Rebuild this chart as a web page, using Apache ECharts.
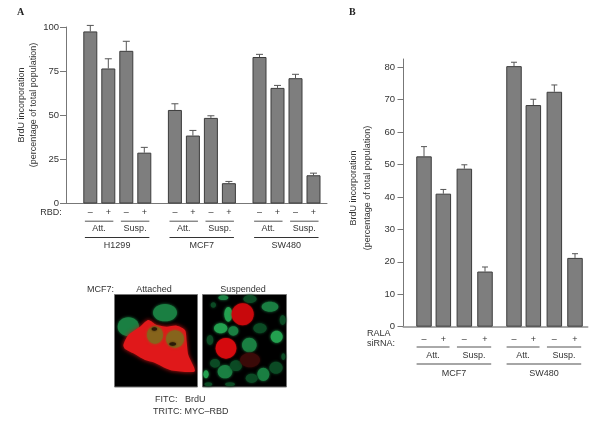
<!DOCTYPE html>
<html><head><meta charset="utf-8">
<style>html,body{margin:0;padding:0;background:#fff}#c{width:600px;height:423px}</style>
<script src="https://cdn.jsdelivr.net/npm/echarts@6/dist/echarts.min.js"></script>
</head><body><div id="c"></div>
<script>
const linesA = ['H1299','MCF7','SW480'];
const conditions = ['Att.','Susp.'];
const signs = ['–','+','–','+'];
const valuesA = [97.5,76.5,86.5,28.8, 53,38.5,48.5,11.5, 83,65.5,71,16];
const topsA   = [100.9,82,91.9,31.8, 56.5,41.4,49.7,12.5, 84.5,66.9,73.2,17.2];
const linesB = ['MCF7','SW480'];
const valuesB = [52.5,41,48.7,17, 80.3,68.3,72.4,21.2];
const topsB   = [55.5,42.3,49.9,18.4, 81.5,70.1,74.5,22.5];

const FONT = '"Liberation Sans",Arial,sans-serif';
const TXT = '#333';
const chart = echarts.init(document.getElementById('c'));

// x layout in bar-pitch units
const xA = i => Math.floor(i/4)*4.70 + (i%4);
const xB = i => Math.floor(i/4)*4.5 + [0,0.967,2.017,3.05][i%4];

function barSeries(idx, xf, vals, w){
  return {type:'bar',xAxisIndex:idx,yAxisIndex:idx,barWidth:w,animation:false,silent:true,
    itemStyle:{color:'#7e7e7e',borderColor:'#3c3c3c',borderWidth:1},
    data:vals.map((v,i)=>[xf(i),v])};
}
function errSeries(idx, xf, vals, tops, cap){
  return {type:'custom',xAxisIndex:idx,yAxisIndex:idx,animation:false,silent:true,
    encode:{x:0,y:[1,2]},
    data:vals.map((v,i)=>[xf(i),v,tops[i]]),
    renderItem(p,api){
      const a=api.coord([api.value(0),api.value(1)]), b=api.coord([api.value(0),api.value(2)]);
      const st={stroke:'#555',lineWidth:1,fill:null};
      return {type:'group',children:[
        {type:'line',shape:{x1:a[0],y1:a[1],x2:b[0],y2:b[1]},style:st},
        {type:'line',shape:{x1:b[0]-cap,y1:b[1],x2:b[0]+cap,y2:b[1]},style:st}]};
    }};
}
// annotation rows below the axis, placed from the x scale
function annSeries(idx, items){
  return {type:'custom',xAxisIndex:idx,yAxisIndex:idx,animation:false,silent:true,clip:false,
    data:items.map((d,i)=>[d.x0,d.x1,i]),
    encode:{x:[0,1]},
    renderItem(p,api){
      const d=items[api.value(2)];
      const l=api.coord([d.x0,0]), r=api.coord([d.x1,0]);
      const y=l[1]+d.dy;
      if(d.text!==undefined) return {type:'text',style:{x:(l[0]+r[0])/2,y:y,text:d.text,
        font:(d.size||9)+'px '+FONT,fill:TXT,align:'center',verticalAlign:'middle'}};
      return {type:'line',shape:{x1:l[0],y1:y,x2:r[0],y2:y},style:{stroke:d.c||'#555',lineWidth:d.lw||1}};
    }};
}
function annotations(xf, names, cfg){
  const out=[];
  for(let i=0;i<names.length*4;i++){
    const x=xf(i); out.push({x0:x,x1:x,text:signs[i%4],dy:cfg.sign});
  }
  names.forEach((n,g)=>{
    const s=g*4;
    [[0,1],[2,3]].forEach((pair,k)=>{
      const a=xf(s+pair[0])-cfg.padL, b=xf(s+pair[1])+cfg.padR;
      out.push({x0:a,x1:b,dy:cfg.line1,c:'#555',lw:1});
      out.push({x0:a,x1:b,text:conditions[k],dy:cfg.text1});
    });
    const a=xf(s)-cfg.padL, b=xf(s+3)+cfg.padR;
    out.push({x0:a,x1:b,dy:cfg.line2,c:cfg.line2c,lw:cfg.line2w});
    out.push({x0:a,x1:b,text:n,dy:cfg.text2});
  });
  return out;
}
const annA=annotations(xA,linesA,{sign:9,line1:17.7,text1:25,line2:34,text2:42,padL:0.3,padR:0.28,line2c:'#333',line2w:1});
const annB=annotations(xB,linesB,{sign:12.5,line1:20.3,text1:28.5,line2:37.3,text2:46.5,padL:0.37,padR:0.31,line2c:'#888',line2w:1.6});

const yAxisBase={type:'value',
  axisLine:{show:true,onZero:false,lineStyle:{color:'#777',width:1}},
  axisTick:{show:true,length:6,lineStyle:{color:'#777'}},
  splitLine:{show:false},
  axisLabel:{color:TXT,fontFamily:FONT,fontSize:9.5}};

// photo panel (drawn as shapes); sketch coordinates
const px=(X,Y)=>[70+X/3,275+Y/3];
const cell=(X,Y,rx,ry,c,blur)=>{const p=px(X,Y);return {type:'ellipse',shape:{cx:p[0],cy:p[1],rx:rx/3,ry:ry/3},
  style:{fill:c,shadowBlur:blur===undefined?3:blur,shadowColor:c}};};
const G='#1a7f42', B='#23a04f', D='#0b4a24';
const photo=[
 {type:'rect',shape:{x:114.5,y:294.5,width:83,height:92.5},style:{fill:'#000',stroke:'#777',lineWidth:1}},
 cell(175,155,32,28,G),cell(285,113,36,26,G),
 {type:'polygon',shape:{smooth:0.25,points:[[160,210],[175,180],[210,155],[235,135],[260,150],[290,155],[320,152],[345,165],[350,200],[355,240],[375,288],[350,291],[300,285],[250,262],[225,255],[190,235],[165,222]].map(q=>px(q[0],q[1]))},
  style:{fill:'#e0181a',shadowBlur:4,shadowColor:'#d01414'}},
 cell(255,180,24,26,'#86641c'),cell(315,192,27,26,'#86641c'),
 cell(253,162,8,5,'#2a1a08',2),cell(308,207,10,5,'#2a1a08',2),
 {type:'rect',shape:{x:202.5,y:294.5,width:84,height:92.5},style:{fill:'#000',stroke:'#777',lineWidth:1}}
];
[[475,118,12,22,B],[452,160,20,15,B],[490,168,15,14,G],[430,90,8,8,D],[460,68,15,7,G],[540,72,20,12,D],
 [600,95,25,15,G],[638,135,9,15,D],[570,160,20,15,D],[620,185,18,18,B],[538,210,22,22,G],[420,195,10,15,D],
 [435,265,15,13,D],[465,290,22,20,G],[498,272,18,16,D],[408,298,8,12,B],[580,298,18,20,G],[618,278,20,18,D],
 [545,310,18,14,D],[415,328,12,6,D],[480,328,15,6,D],[640,245,6,10,D]
].forEach(a=>photo.push(cell(a[0],a[1],a[2],a[3],a[4])));
photo.push(cell(518,118,33,33,'#c8080c',2),cell(468,220,31,31,'#d40a0e',2),cell(540,255,30,22,'#3a0a08',3));
const T=(x,y,text,extra)=>({type:'text',style:Object.assign({x,y,text,font:'9px '+FONT,fill:TXT,align:'center',verticalAlign:'middle'},extra||{})});
const L={align:'left'};

const graphicEls=[
 {type:'text',style:{x:17,y:12,text:'A',font:'bold 10px "Liberation Serif",serif',fill:'#222',verticalAlign:'middle'}},
 {type:'text',style:{x:349,y:12,text:'B',font:'bold 10px "Liberation Serif",serif',fill:'#222',verticalAlign:'middle'}},
 {type:'text',x:27.5,y:105,rotation:Math.PI/2,style:{x:0,y:0,text:'BrdU incorporation\n(percentage of total population)',font:'9px '+FONT,lineHeight:12,fill:TXT,align:'center',verticalAlign:'middle'}},
 {type:'text',x:360.5,y:188,rotation:Math.PI/2,style:{x:0,y:0,text:'BrdU incorporation\n(percentage of total population)',font:'9px '+FONT,lineHeight:14,fill:TXT,align:'center',verticalAlign:'middle'}},
 T(51,213,'RBD:'),
 T(367,333.5,'RALA',L),T(367,343.5,'siRNA:',L),
 ...photo,
 T(100.5,289.5,'MCF7:'),T(154,289.5,'Attached'),T(243,289.5,'Suspended'),
 T(155,400,'FITC:',L),T(185,400,'BrdU',L),T(153,411.7,'TRITC: MYC–RBD',L)
];
graphicEls.forEach(e=>{e.silent=true});

chart.setOption({
  animation:false,backgroundColor:'#fff',
  grid:[
    {left:66,top:27,width:261,height:176.5},
    {left:403.5,top:59,width:184,height:267.7}
  ],
  xAxis:[
    {type:'value',gridIndex:0,min:-1.35,max:13.15,axisLine:{show:true,onZero:false,lineStyle:{color:'#777',width:1}},axisTick:{show:false},axisLabel:{show:false},splitLine:{show:false}},
    {type:'value',gridIndex:1,min:-1.025,max:8.175,axisLine:{show:true,onZero:false,lineStyle:{color:'#aaa',width:2}},axisTick:{show:false},axisLabel:{show:false},splitLine:{show:false}}
  ],
  yAxis:[
    Object.assign({},yAxisBase,{gridIndex:0,min:0,max:100,interval:25,axisLabel:Object.assign({},yAxisBase.axisLabel,{margin:7})}),
    Object.assign({},yAxisBase,{gridIndex:1,min:0,max:82.5,interval:10,axisLabel:Object.assign({},yAxisBase.axisLabel,{margin:8.5,showMaxLabel:false})})
  ],
  series:[
    barSeries(0,xA,valuesA,14), errSeries(0,xA,valuesA,topsA,3.5), annSeries(0,annA),
    barSeries(1,xB,valuesB,15.5), errSeries(1,xB,valuesB,topsB,3), annSeries(1,annB)
  ],
  graphic:{elements:graphicEls}
});
</script></body></html>
